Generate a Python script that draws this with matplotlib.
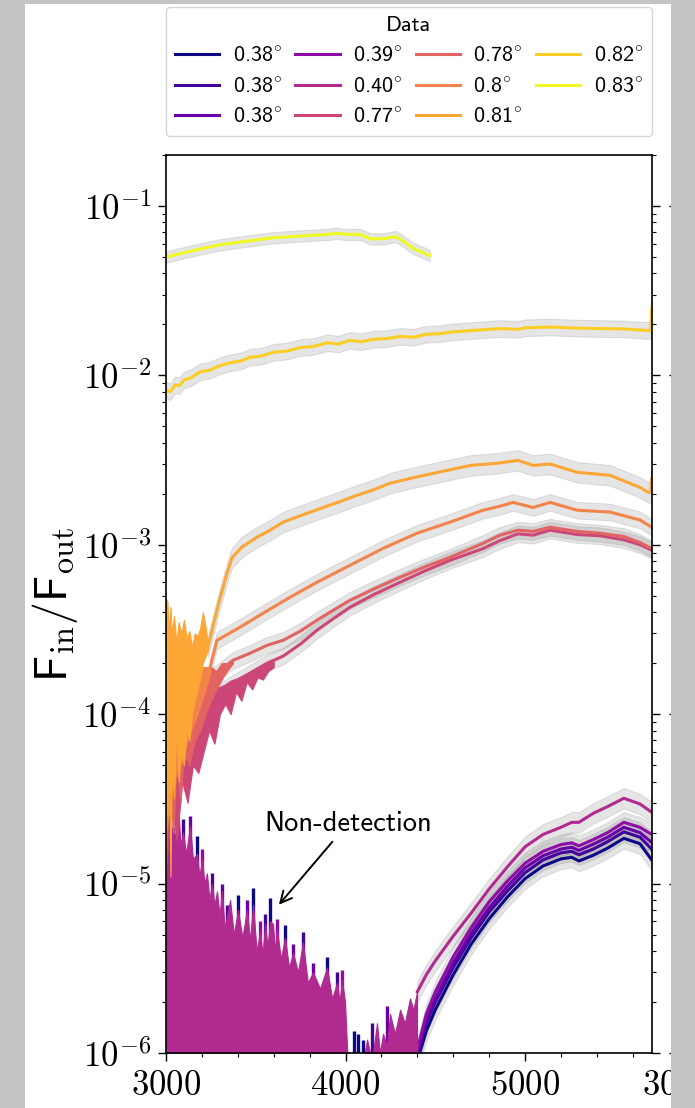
import numpy as np
import matplotlib.pyplot as plt
from matplotlib.patches import Rectangle
from matplotlib.ticker import MultipleLocator, FixedLocator, FuncFormatter, LogLocator

plt.rcParams['mathtext.fontset'] = 'cm'

labels = ['0.38', '0.38', '0.38', '0.39', '0.40', '0.77', '0.78', '0.8', '0.81', '0.82', '0.83']
rel_err = [0.15, 0.15, 0.15, 0.15, 0.15, 0.12, 0.12, 0.12, 0.15, 0.12, 0.08]

# low phase angles, red end (same grid for all five)
wl_low = [4400, 4450, 4500, 4600, 4700, 4800, 4900, 5000, 5100, 5200, 5260, 5300, 5380, 5460, 5550, 5640, 5705]
flux_038a = [9e-7, 1.35e-6, 1.8e-6, 2.9e-6, 4.4e-6, 6.2e-6, 8.3e-6, 1.07e-5, 1.27e-5, 1.40e-5, 1.43e-5, 1.36e-5, 1.47e-5, 1.62e-5, 1.85e-5, 1.72e-5, 1.38e-5]
flux_038b = [9.5e-7, 1.5e-6, 2.0e-6, 3.2e-6, 4.8e-6, 6.8e-6, 9.0e-6, 1.16e-5, 1.38e-5, 1.52e-5, 1.55e-5, 1.48e-5, 1.6e-5, 1.77e-5, 2.02e-5, 1.88e-5, 1.6e-5]
flux_038c = [1.0e-6, 1.6e-6, 2.1e-6, 3.4e-6, 5.1e-6, 7.2e-6, 9.6e-6, 1.24e-5, 1.46e-5, 1.6e-5, 1.64e-5, 1.57e-5, 1.71e-5, 1.88e-5, 2.15e-5, 2.0e-5, 1.75e-5]
flux_039 = [1.05e-6, 1.7e-6, 2.3e-6, 3.7e-6, 5.5e-6, 7.8e-6, 1.03e-5, 1.32e-5, 1.55e-5, 1.7e-5, 1.74e-5, 1.67e-5, 1.82e-5, 2.0e-5, 2.3e-5, 2.15e-5, 1.95e-5]
flux_040 = [2.3e-6, 2.9e-6, 3.5e-6, 4.9e-6, 6.7e-6, 9.3e-6, 1.25e-5, 1.65e-5, 1.95e-5, 2.15e-5, 2.3e-5, 2.3e-5, 2.6e-5, 2.85e-5, 3.19e-5, 2.95e-5, 2.64e-5]

# blue end of the low phase angles is noise: top of the spikes
noise_wl_low = [3000, 3010, 3022, 3030, 3039, 3052, 3067, 3080, 3095, 3112,
                3134, 3150, 3173, 3186, 3201, 3214, 3228, 3242, 3256, 3270,
                3284, 3298, 3312, 3326, 3340, 3357, 3378, 3401, 3425, 3451,
                3468, 3485, 3505, 3524, 3538, 3552, 3566, 3579, 3596, 3607,
                3618, 3640, 3663, 3685, 3708, 3735, 3763, 3790, 3819, 3858,
                3897, 3925, 3953, 3967, 3980, 3997, 4008, 4030, 4060, 4090,
                4120, 4148, 4175, 4192, 4209, 4230, 4248, 4275, 4304, 4330,
                4359, 4378, 4398]
noise_top_040 = [3.9e-5, 2.6e-5, 3.1e-5, 1.9e-5, 2.3e-5, 1.8e-5, 3.0e-5, 1.7e-5, 2.0e-5, 1.5e-5,
                 2.2e-5, 1.4e-5, 1.5e-5, 1.1e-5, 1.4e-5, 1.0e-5, 1.15e-5, 8.0e-6, 1.0e-5, 7.5e-6,
                 9.0e-6, 6.5e-6, 9.0e-6, 5.5e-6, 6.5e-6, 8.0e-6, 5.0e-6, 7.0e-6, 4.8e-6, 7.0e-6,
                 4.6e-6, 7.5e-6, 4.0e-6, 5.2e-6, 3.8e-6, 5.8e-6, 4.2e-6, 6.0e-6, 5.8e-6, 4.0e-6,
                 5.4e-6, 3.6e-6, 4.8e-6, 3.2e-6, 3.9e-6, 3.0e-6, 4.5e-6, 2.6e-6, 3.0e-6, 2.4e-6,
                 3.2e-6, 2.1e-6, 2.6e-6, 2.0e-6, 2.7e-6, 2.0e-6, 1.1e-6, 5e-7, 5e-7, 8e-7,
                 1.2e-6, 9e-7, 1.5e-6, 1.0e-6, 1.3e-6, 1.1e-6, 1.7e-6, 1.3e-6, 1.8e-6, 1.5e-6,
                 2.1e-6, 1.8e-6, 2.3e-6]
spike_wl_038a = [3022, 3173, 3401, 3485, 3579, 3663, 3897, 4045, 4070, 4100]
spike_top_038a = [3.5e-5, 1.9e-5, 8.6e-6, 9.4e-6, 8.2e-6, 5.7e-6, 3.7e-6, 1.35e-6, 1.3e-6, 1.2e-6]
spike_wl_038b = [3095, 3256, 3340, 3552, 3763, 3953, 4150]
spike_top_038b = [2.4e-5, 1.15e-5, 7.5e-6, 6.6e-6, 5.2e-6, 3.0e-6, 1.5e-6]
spike_wl_038c = [3134, 3312, 3451, 3708, 3819, 4230]
spike_top_038c = [2.5e-5, 1.0e-5, 8.0e-6, 4.4e-6, 3.4e-6, 1.9e-6]
spike_wl_039 = [3201, 3524, 3618, 3980]
spike_top_039 = [1.6e-5, 6.0e-6, 6.2e-6, 3.1e-6]

# high phase angles
wl_077 = [3284, 3373, 3468, 3563, 3652, 3750, 3841, 3930, 4025, 4160, 4304, 4440, 4582, 4766, 4861, 4960, 5045, 5139, 5290, 5418, 5550, 5641, 5705]
flux_077 = [1.33e-4, 1.52e-4, 1.75e-4, 2.0e-4, 2.2e-4, 2.6e-4, 3.13e-4, 3.65e-4, 4.28e-4, 5.1e-4, 6.01e-4, 7.0e-4, 8.1e-4, 9.5e-4, 1.06e-3, 1.16e-3, 1.14e-3, 1.22e-3, 1.15e-3, 1.13e-3, 1.07e-3, 1.0e-3, 9.3e-4]
wl_078 = [3206, 3284, 3373, 3468, 3563, 3652, 3750, 3841, 3930, 4025, 4160, 4304, 4440, 4582, 4766, 4861, 4960, 5045, 5139, 5290, 5418, 5550, 5641, 5705]
flux_078 = [1.59e-4, 1.75e-4, 2.08e-4, 2.29e-4, 2.55e-4, 2.73e-4, 3.1e-4, 3.59e-4, 4.1e-4, 4.71e-4, 5.5e-4, 6.43e-4, 7.4e-4, 8.44e-4, 1.02e-3, 1.14e-3, 1.22e-3, 1.2e-3, 1.27e-3, 1.2e-3, 1.17e-3, 1.12e-3, 1.03e-3, 9.5e-4]
wl_080 = [3245, 3284, 3412, 3540, 3691, 3841, 4025, 4209, 4398, 4582, 4766, 4861, 4933, 5045, 5139, 5290, 5474, 5641, 5705]
flux_080 = [1.89e-4, 2.73e-4, 3.26e-4, 3.94e-4, 4.9e-4, 6.01e-4, 7.57e-4, 9.52e-4, 1.17e-3, 1.36e-3, 1.6e-3, 1.69e-3, 1.78e-3, 1.66e-3, 1.78e-3, 1.6e-3, 1.56e-3, 1.4e-3, 1.27e-3]
wl_081 = [3234, 3270, 3300, 3340, 3368, 3423, 3507, 3580, 3652, 3760, 3875, 3970, 4064, 4150, 4248, 4370, 4488, 4600, 4694, 4844, 4960, 5045, 5139, 5290, 5474, 5641, 5685, 5700, 5705]
flux_081 = [2.5e-4, 3.6e-4, 4.8e-4, 6.8e-4, 8.4e-4, 9.7e-4, 1.11e-3, 1.22e-3, 1.36e-3, 1.5e-3, 1.66e-3, 1.8e-3, 1.96e-3, 2.1e-3, 2.31e-3, 2.48e-3, 2.64e-3, 2.8e-3, 2.94e-3, 3.03e-3, 3.15e-3, 2.94e-3, 3.0e-3, 2.68e-3, 2.57e-3, 2.18e-3, 2.04e-3, 2.04e-3, 2.47e-3]
wl_082 = [3000, 3025, 3050, 3075, 3100, 3140, 3190, 3240, 3300, 3360, 3420, 3468, 3530, 3600, 3670, 3747, 3820, 3900, 3960, 4025, 4090, 4150, 4230, 4304, 4380, 4450, 4520, 4582, 4700, 4861, 4960, 5000, 5139, 5300, 5418, 5550, 5685, 5700, 5705]
flux_082 = [0.0082, 0.0080, 0.0088, 0.0087, 0.0094, 0.0097, 0.0105, 0.0107, 0.0114, 0.0119, 0.0122, 0.0128, 0.0130, 0.0137, 0.0139, 0.0146, 0.0148, 0.0156, 0.0153, 0.0161, 0.0158, 0.0163, 0.0165, 0.0170, 0.0168, 0.0175, 0.0176, 0.0180, 0.0184, 0.0189, 0.0187, 0.0191, 0.0193, 0.0190, 0.0189, 0.0188, 0.0184, 0.0184, 0.0248]
wl_083 = [3000, 3100, 3200, 3300, 3400, 3500, 3600, 3700, 3800, 3900, 3950, 4000, 4080, 4140, 4210, 4280, 4320, 4380, 4470]
flux_083 = [0.050, 0.053, 0.056, 0.059, 0.061, 0.063, 0.065, 0.066, 0.067, 0.068, 0.069, 0.068, 0.068, 0.064, 0.064, 0.066, 0.062, 0.056, 0.051]

# noisy blue ends of the high phase angles (lower / upper envelope)
noise_wl_077 = [3000, 3030, 3060, 3090, 3120, 3150, 3180, 3210, 3240, 3270, 3300, 3330, 3360, 3390, 3420, 3450, 3480, 3510, 3540, 3570, 3600]
noise_hi_077 = [1.6e-4, 1.1e-4, 1.5e-4, 1.2e-4, 1.4e-4, 1.2e-4, 1.35e-4, 1.4e-4, 1.45e-4, 1.45e-4, 1.45e-4, 1.5e-4, 1.58e-4, 1.62e-4, 1.68e-4, 1.74e-4, 1.8e-4, 1.86e-4, 1.94e-4, 2.0e-4, 2.08e-4]
noise_lo_077 = [1.2e-5, 3e-5, 1.8e-5, 4e-5, 3e-5, 5e-5, 4.5e-5, 6e-5, 8e-5, 6.7e-5, 1.0e-4, 1.15e-4, 1.0e-4, 1.35e-4, 1.2e-4, 1.55e-4, 1.4e-4, 1.65e-4, 1.6e-4, 1.8e-4, 1.9e-4]
noise_wl_078 = [3000, 3020, 3040, 3060, 3080, 3100, 3130, 3160, 3190, 3220, 3250, 3280, 3310, 3340, 3373]
noise_hi_078 = [2.5e-4, 1.5e-4, 2.2e-4, 1.4e-4, 1.8e-4, 1.5e-4, 1.7e-4, 1.4e-4, 1.7e-4, 1.6e-4, 1.9e-4, 1.8e-4, 2.0e-4, 2.0e-4, 2.1e-4]
noise_lo_078 = [1.5e-5, 4e-5, 2e-5, 5e-5, 3e-5, 6e-5, 5e-5, 7e-5, 8e-5, 1.0e-4, 1.2e-4, 1.4e-4, 1.6e-4, 1.8e-4, 2.0e-4]
noise_wl_080 = [3000, 3040, 3080, 3120, 3160, 3200, 3245]
noise_hi_080 = [3.0e-4, 2.2e-4, 2.6e-4, 2.0e-4, 2.3e-4, 1.9e-4, 1.9e-4]
noise_lo_080 = [2e-5, 4e-5, 5e-5, 7e-5, 9e-5, 1.2e-4, 1.7e-4]
noise_wl_081 = [3000, 3008, 3015, 3025, 3032, 3045, 3058, 3070, 3085, 3100, 3115, 3130, 3145, 3160, 3175, 3190, 3205, 3220, 3234]
noise_hi_081 = [4.8e-4, 4.6e-4, 3.2e-4, 4.3e-4, 3.0e-4, 3.8e-4, 2.6e-4, 3.5e-4, 3.0e-4, 3.6e-4, 2.8e-4, 3.1e-4, 2.5e-4, 3.0e-4, 2.9e-4, 3.2e-4, 4.0e-4, 3.3e-4, 2.6e-4]
noise_lo_081 = [6e-5, 2.5e-5, 8e-5, 1.1e-5, 5e-5, 3.2e-5, 9e-5, 4e-5, 6e-5, 5e-5, 8e-5, 7e-5, 1.0e-4, 1.2e-4, 1.4e-4, 1.6e-4, 2.0e-4, 2.2e-4, 2.4e-4]

wls = [wl_low, wl_low, wl_low, wl_low, wl_low, wl_077, wl_078, wl_080, wl_081, wl_082, wl_083]
fluxes = [flux_038a, flux_038b, flux_038c, flux_039, flux_040, flux_077, flux_078, flux_080, flux_081, flux_082, flux_083]
spikes = {0: (spike_wl_038a, spike_top_038a), 1: (spike_wl_038b, spike_top_038b),
          2: (spike_wl_038c, spike_top_038c), 3: (spike_wl_039, spike_top_039)}
noise = {5: (noise_wl_077, noise_lo_077, noise_hi_077), 6: (noise_wl_078, noise_lo_078, noise_hi_078),
         7: (noise_wl_080, noise_lo_080, noise_hi_080), 8: (noise_wl_081, noise_lo_081, noise_hi_081)}

colors = plt.cm.plasma(np.linspace(0, 1, len(labels)))
floor = 1e-8
sans = 'cmss10'

def log_label(v, pos):
	return r'$10^{%d}$' % int(round(np.log10(v)))

def wl_label(v, pos):
	return r'$%d$' % v

fig = plt.figure(figsize=(6.95, 11.08), dpi=100)
ax = fig.add_axes([166/695, 55/1108, 486/695, 898/1108])

handles = []
for i in range(len(labels)):
	wl = np.array(wls[i])
	f = np.array(fluxes[i])
	e = rel_err[i]
	ax.fill_between(wl, f / (1 + e), f * (1 + e), color='gray', alpha=0.2, lw=0.8, zorder=1)
	if i in spikes:
		sw, st = spikes[i]
		ax.vlines(sw, floor, st, color=colors[i], lw=2.4, zorder=2)
	if i == 4:
		ax.fill_between(noise_wl_low, floor, noise_top_040, color=colors[i], lw=0.8, zorder=2)
	if i in noise:
		nw, nlo, nhi = noise[i]
		ax.fill_between(nw, nlo, nhi, color=colors[i], lw=0.8, zorder=2)
	line, = ax.plot(wl, f, color=colors[i], lw=2.2, zorder=2, label=labels[i] + r'$^{\circ}$')
	handles.append(line)

ax.annotate('Non-detection', xy=(3624, 7.4e-6), xytext=(4014, 2.27e-5),
	ha='center', va='center', fontsize=20.5, family=sans,
	arrowprops=dict(arrowstyle='->', color='black', lw=1.4, shrinkA=3, shrinkB=1))

ax.set_yscale('log')
ax.set_ylim(1e-6, 0.2)
ax.set_xlim(3000, 5707)
ax.yaxis.set_major_locator(LogLocator(base=10))
ax.yaxis.set_major_formatter(FuncFormatter(log_label))
ax.xaxis.set_major_locator(FixedLocator([3000, 4000, 5000]))
ax.xaxis.set_minor_locator(MultipleLocator(200))
ax.xaxis.set_major_formatter(FuncFormatter(wl_label))
ax.tick_params(which='major', direction='out', length=5.8, width=1.0, labelsize=25, pad=5)
ax.tick_params(which='minor', direction='out', length=3.0, width=0.8)
ax.tick_params(axis='y', which='both', right=True)
for s in ax.spines.values():
	s.set_linewidth(1.2)
ax.set_ylabel(r'$\mathsf{F}_{\rm in}/\mathsf{F}_{\rm out}$', fontsize=33)
ax.yaxis.set_label_coords(-0.177, 0.5)

leg = ax.legend(handles=handles, loc='lower left', bbox_to_anchor=(0, 1.021, 1, 0.1), mode='expand',
	ncol=4, borderaxespad=0, prop={'family': sans, 'size': 16}, title='Data',
	title_fontproperties={'family': sans, 'size': 16}, handlelength=2.0, handletextpad=0.6)

# next panel of the figure, cut off at the right edge
ax2 = fig.add_axes([677/695, 55/1108, 0.5, 898/1108])
ax2.set_yscale('log')
ax2.set_ylim(1e-6, 0.2)
ax2.set_xlim(3000, 5707)
ax2.xaxis.set_major_locator(FixedLocator([3000, 4000, 5000]))
ax2.xaxis.set_major_formatter(FuncFormatter(wl_label))
ax2.tick_params(which='major', direction='out', length=5.8, width=1.0, labelsize=25, pad=5, labelleft=False)
ax2.tick_params(which='minor', length=3.0, width=0.8, labelleft=False)

# grey frame around the cut-out
frame = '#c4c4c4'
for r in [(0, 0, 25/695, 1), (671/695, 0, 24/695, 1), (0, 1104/1108, 1, 4/1108)]:
	fig.add_artist(Rectangle(r[:2], r[2], r[3], transform=fig.transFigure,
		facecolor=frame, edgecolor='none', zorder=10))

fig.savefig('out.png', dpi=100)
